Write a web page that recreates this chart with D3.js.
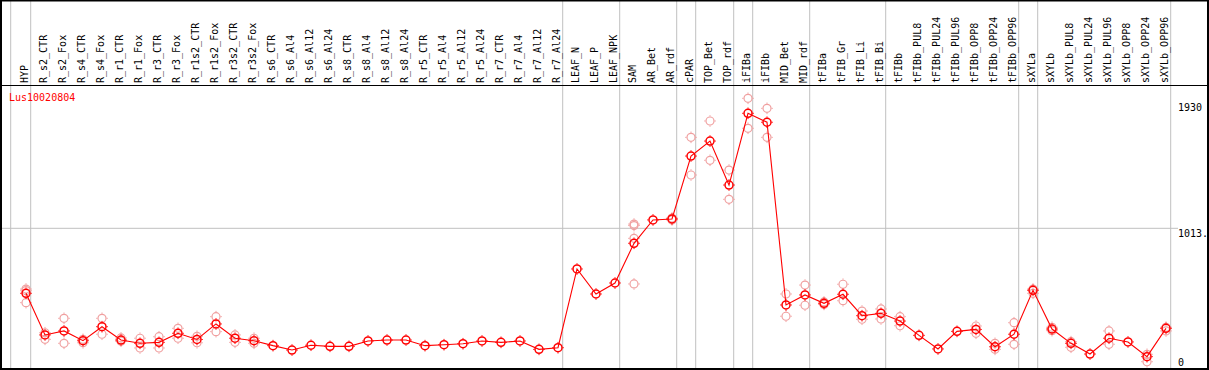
<!DOCTYPE html>
<html><head><meta charset="utf-8">
<script src="https://cdn.jsdelivr.net/npm/d3@7"></script>
<style>html,body{margin:0;padding:0;background:#fff;}svg{display:block;}</style>
</head><body><div id="chart"></div>
<script>
const title = "Lus10020804";
const categories = ["HYP","R_s2_CTR","R_s2_Fox","R_s4_CTR","R_s4_Fox","R_r1_CTR","R_r1_Fox","R_r3_CTR","R_r3_Fox","R_r1s2_CTR","R_r1s2_Fox","R_r3s2_CTR","R_r3s2_Fox","R_s6_CTR","R_s6_Al4","R_s6_Al12","R_s6_Al24","R_s8_CTR","R_s8_Al4","R_s8_Al12","R_s8_Al24","R_r5_CTR","R_r5_Al4","R_r5_Al12","R_r5_Al24","R_r7_CTR","R_r7_Al4","R_r7_Al12","R_r7_Al24","LEAF_N","LEAF_P","LEAF_NPK","SAM","AR_Bet","AR_rdf","cPAR","TOP_Bet","TOP_rdf","iFIBa","iFIBb","MID_Bet","MID_rdf","tFIBa","tFIB_Gr","tFIB_Li","tFIB_Bi","tFIBb","tFIBb_PUL8","tFIBb_PUL24","tFIBb_PUL96","tFIBb_OPP8","tFIBb_OPP24","tFIBb_OPP96","sXYLa","sXYLb","sXYLb_PUL8","sXYLb_PUL24","sXYLb_PUL96","sXYLb_OPP8","sXYLb_OPP24","sXYLb_OPP96"];
const means = [540,237,266,195,297,200,176,183,249,204,317,213,195,159,127,162,154,154,193,200,200,159,166,173,193,183,193,132,144,717,535,615,904,1074,1081,1539,1648,1328,1850,1785,455,528,467,533,377,394,338,234,135,263,277,151,242,562,280,176,98,213,186,79,285];
const replicates = [[571,559,472],[253,205],[358,176],[205,180],[358,242],[215,191],[213,142],[224,142],[285,213],[227,180],[370,261],[237,183],[213,176],[],[],[],[],[],[],[],[],[],[],[],[],[],[],[],[],[],[],[],[1044,1033,940,608],[],[1088,1074],[1675,1401],[1794,1508],[1437,1224],[1959,1741],[1886,1675],[535,373],[600,453],[477,459],[606,486],[411,351],[426,353],[370,304],[],[],[],[302,249],[176,132],[326,169],[571,540],[293,268],[188,147],[],[266,169],[],[96,42],[293,266]];
const groupEnds = [0,28,31,34,35,37,38,41,45,52,53,60];
const yTickValues = [1930,1013];
const yTickLabels = ["1930","1013."];
const zeroLabel = "0";

const W = 1209, H = 370;
const headerH = 85, bottom = 367.5;
const svg = d3.select("#chart").append("svg").attr("width", W).attr("height", H);

const x = d3.scalePoint().domain(categories).range([26, 1166]);
const y = d3.scaleLinear().domain([0, 2056]).range([bottom, headerH]);
const font = "'DejaVu Sans Mono', 'Liberation Mono', monospace";

// vertical grey separators
const sepX = [x(categories[0]) - 15.3].concat(groupEnds.map(i => x(categories[i]) + 4.7));
svg.selectAll("line.sep").data(sepX).enter().append("line")
  .attr("x1", d => d).attr("x2", d => d).attr("y1", 0).attr("y2", H)
  .attr("stroke", "#c0c0c0").attr("stroke-width", 1);

// horizontal grey line at middle tick
svg.append("line").attr("x1", 0).attr("x2", 1178).attr("y1", y(yTickValues[1])).attr("y2", y(yTickValues[1]))
  .attr("stroke", "#c0c0c0").attr("stroke-width", 1);

// frame lines
svg.append("line").attr("x1", 0).attr("x2", W).attr("y1", 0.5).attr("y2", 0.5).attr("stroke", "#000").attr("stroke-width", 2);
svg.append("line").attr("x1", 0).attr("x2", W).attr("y1", headerH + 0.5).attr("y2", headerH + 0.5).attr("stroke", "#000").attr("stroke-width", 1.2);
svg.append("line").attr("x1", 0).attr("x2", W).attr("y1", H - 1).attr("y2", H - 1).attr("stroke", "#000").attr("stroke-width", 2);
svg.append("line").attr("x1", 1).attr("x2", 1).attr("y1", 0).attr("y2", H).attr("stroke", "#000").attr("stroke-width", 2);
svg.append("line").attr("x1", W - 1).attr("x2", W - 1).attr("y1", 0).attr("y2", H).attr("stroke", "#000").attr("stroke-width", 2);

// category labels (rotated)
svg.selectAll("text.cat").data(categories).enter().append("text")
  .attr("transform", d => `translate(${x(d) + 2.3},83) rotate(-90)`)
  .attr("font-family", font).attr("font-size", "10px").attr("fill", "#000")
  .text(d => d);

// title
svg.append("text").attr("x", 9).attr("y", 100.5).attr("font-family", font).attr("font-size", "10px")
  .attr("fill", "#ff0000").text(title);

// right axis labels
svg.selectAll("text.ytick").data(yTickValues).enter().append("text")
  .attr("x", 1178).attr("y", d => y(d) + 8.4)
  .attr("font-family", font).attr("font-size", "10px").attr("fill", "#000")
  .text((d, i) => yTickLabels[i]);
svg.append("text").attr("x", 1178).attr("y", 365.5).attr("font-family", font).attr("font-size", "10px")
  .attr("fill", "#000").text(zeroLabel);

function marker(g, cx, cy, color, sw) {
  g.append("circle").attr("cx", cx).attr("cy", cy).attr("r", 4)
    .attr("fill", "none").attr("stroke", color).attr("stroke-width", sw);
  const t = [[0,-1],[0,1],[-1,0],[1,0]];
  t.forEach(([dx,dy]) => {
    g.append("line").attr("x1", cx + dx*4.5).attr("y1", cy + dy*4.5).attr("x2", cx + dx*5.8).attr("y2", cy + dy*5.8)
      .attr("stroke", color).attr("stroke-width", 1);
  });
}

// replicate points
const repG = svg.append("g");
categories.forEach((c, i) => {
  replicates[i].forEach(v => marker(repG, x(c), y(v), "#f0a0a0", 1.2));
});

// mean line
const line = d3.line().x((d, i) => x(categories[i])).y(d => y(d));
svg.append("path").datum(means).attr("d", line).attr("fill", "none").attr("stroke", "#ff0000").attr("stroke-width", 1.1);

// mean markers
const meanG = svg.append("g");
means.forEach((v, i) => marker(meanG, x(categories[i]), y(v), "#ff0000", 1.5));
</script>
</body></html>
